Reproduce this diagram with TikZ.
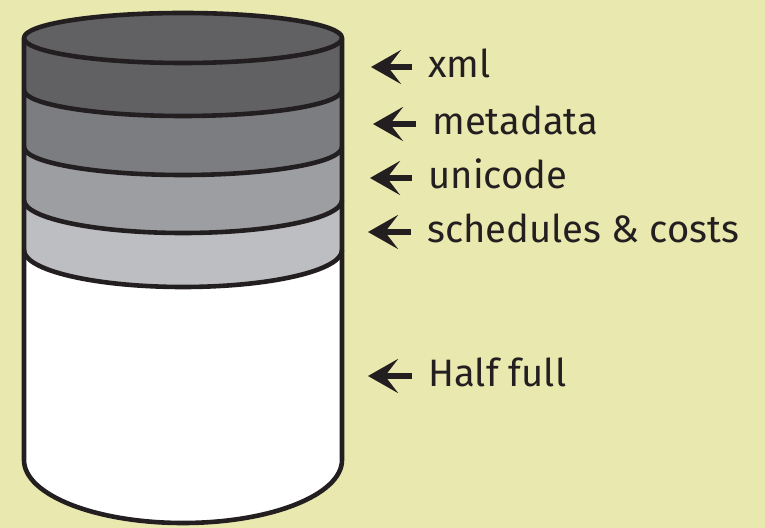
\documentclass[tikz,border=0pt]{standalone}
\usepackage{fontspec}
\setmainfont{Fira Sans}
\usetikzlibrary{arrows.meta}

\definecolor{paper}{HTML}{E9E8AE}
\definecolor{ink}{HTML}{231F20}
\definecolor{layerA}{HTML}{616163}
\definecolor{layerB}{HTML}{7C7D80}
\definecolor{layerC}{HTML}{9D9EA1}
\definecolor{layerD}{HTML}{BDBEC1}

\begin{document}
\begin{tikzpicture}[
    x=0.5pt, y=-0.5pt,
    rim/.style={draw=ink, line width=2.3pt, line join=round},
    lbl/.style={anchor=base west, inner xsep=8pt, inner ysep=0pt, text=ink, font=\fontsize{19.1}{23}\selectfont},
    pointer/.style={draw=ink, line width=3pt, arrows={-Stealth[length=15pt, width=17pt, inset=6.5pt]}}
]
    \fill[paper] (0,0) rectangle (765,528);
    \useasboundingbox (0,0) rectangle (765,528);

    % cylinder: body, then layers from the bottom up
    \fill[white] (24,38) -- (24,460) arc[start angle=180, end angle=0, x radius=159, y radius=63] -- (342,38) -- cycle;
    \fill[layerD] (24,38) -- (24,250) arc[start angle=180, end angle=0, x radius=159, y radius=37] -- (342,38) -- cycle;
    \fill[layerC] (24,38) -- (24,200) arc[start angle=180, end angle=0, x radius=159, y radius=33] -- (342,38) -- cycle;
    \fill[layerB] (24,38) -- (24,147) arc[start angle=180, end angle=0, x radius=159, y radius=28] -- (342,38) -- cycle;
    \fill[layerA] (24,38) -- (24,90) arc[start angle=180, end angle=0, x radius=159, y radius=26] -- (342,38) -- cycle;
    \fill[layerA] (183,38) ellipse[x radius=159, y radius=25];

    % outlines
    \draw[rim] (24,38) -- (24,460) arc[start angle=180, end angle=0, x radius=159, y radius=63] -- (342,38);
    \draw[rim] (183,38) ellipse[x radius=159, y radius=25];
    \draw[rim] (24,90) arc[start angle=180, end angle=0, x radius=159, y radius=26];
    \draw[rim] (24,147) arc[start angle=180, end angle=0, x radius=159, y radius=28];
    \draw[rim] (24,200) arc[start angle=180, end angle=0, x radius=159, y radius=33];
    \draw[rim] (24,250) arc[start angle=180, end angle=0, x radius=159, y radius=37];

    % labels
    \node[lbl] (xml) at (412,78) {xml};
    \node[lbl] (meta) at (416,135) {metadata};
    \node[lbl] (uni) at (412,189) {unicode};
    \node[lbl] (sched) at (411,243) {schedules \& costs};
    \node[lbl] (half) at (412,387) {Half full};

    \coordinate (xmltip) at (371,67);
    \coordinate (metatip) at (373,124);
    \coordinate (unitip) at (370,178);
    \coordinate (schedtip) at (368,232);
    \coordinate (halftip) at (368,376);

    \draw[pointer] ([yshift=5.5pt]xml.base west) -- (xmltip);
    \draw[pointer] ([yshift=5.5pt]meta.base west) -- (metatip);
    \draw[pointer] ([yshift=5.5pt]uni.base west) -- (unitip);
    \draw[pointer] ([yshift=5.5pt]sched.base west) -- (schedtip);
    \draw[pointer] ([yshift=5.5pt]half.base west) -- (halftip);
\end{tikzpicture}
\end{document}
